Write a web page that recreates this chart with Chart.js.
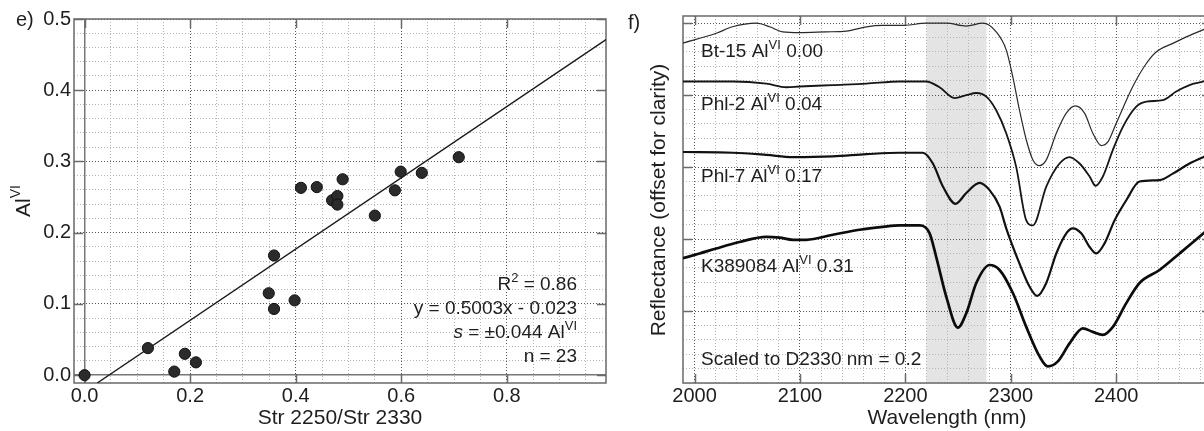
<!DOCTYPE html>
<html><head><meta charset="utf-8">
<script src="https://cdn.jsdelivr.net/npm/chart.js@4.4.0/dist/chart.umd.min.js"></script>
<style>
html,body{margin:0;padding:0;background:#fff;overflow:hidden;width:1204px;height:431px;position:relative;}
#c1{position:absolute;left:0;top:0;width:620px;height:431px;}
#c2{position:absolute;left:620px;top:0;width:600px;height:431px;}
</style></head><body>
<canvas id="c1" width="620" height="431"></canvas>
<canvas id="c2" width="600" height="431"></canvas>
<script>
// ---------- panel e) data ----------
const strRatio = [0.0, 0.12, 0.17, 0.19, 0.211, 0.349, 0.359, 0.359, 0.398, 0.41, 0.44, 0.469, 0.479, 0.479, 0.489, 0.55, 0.588, 0.599, 0.639, 0.709];
const alVI     = [0.0, 0.038, 0.005, 0.030, 0.018, 0.115, 0.168, 0.093, 0.105, 0.263, 0.264, 0.2455, 0.2515, 0.2395, 0.275, 0.224, 0.2595, 0.2857, 0.284, 0.306];
const fitX = [0.024, 0.99];
const fitY = [-0.011, 0.472];
const xTickLabelsE = [0.0, 0.2, 0.4, 0.6, 0.8];
const yTickLabelsE = [0.0, 0.1, 0.2, 0.3, 0.4, 0.5];

// ---------- panel f) data ----------
const bt15Nm = [1988, 2020.6, 2036, 2058.5, 2071.2, 2083.5, 2099.6, 2125, 2144, 2163, 2178, 2199, 2219.8, 2238.8, 2257.8, 2273.5, 2286.2, 2295.7, 2302, 2308.3, 2314.7, 2321, 2327.3, 2333.7, 2343.2, 2352.7, 2361.2, 2370, 2377.9, 2385.9, 2392.1, 2400.1, 2415.8, 2428.6, 2438, 2453.8, 2466.5, 2482.9, 2500];
const bt15R  = [4.72, 4.86, 4.95, 5.00, 4.95, 4.88, 4.87, 4.88, 4.89, 4.95, 4.97, 4.97, 5.00, 5.00, 4.96, 5.00, 4.88, 4.63, 4.25, 3.79, 3.38, 3.10, 3.02, 3.10, 3.47, 3.75, 3.85, 3.75, 3.47, 3.30, 3.35, 3.61, 4.12, 4.44, 4.60, 4.72, 4.81, 4.91, 5.02];
const phl2Nm = [1988, 2036.3, 2068, 2087, 2099.6, 2131, 2163, 2194.5, 2219.8, 2232.4, 2246.7, 2257.8, 2267.3, 2276.8, 2286.2, 2295.7, 2305.2, 2314.7, 2321, 2333.7, 2346.3, 2355.8, 2365.3, 2374.8, 2380.5, 2387.4, 2396.9, 2406.4, 2419.1, 2428.6, 2444.3, 2457, 2469.6, 2482.9, 2500];
const phl2R  = [4.19, 4.19, 4.16, 4.11, 4.12, 4.14, 4.16, 4.19, 4.19, 4.11, 3.96, 4.00, 4.03, 3.98, 3.79, 3.47, 3.00, 2.26, 2.19, 2.73, 3.05, 3.14, 3.05, 2.87, 2.74, 2.87, 3.24, 3.56, 3.84, 3.91, 3.93, 4.05, 4.14, 4.19, 4.28];
const phl7Nm = [1988, 2036.3, 2068, 2093.3, 2131, 2163, 2194.5, 2216.6, 2226.1, 2235.6, 2247.6, 2257.8, 2270.4, 2279.9, 2289.4, 2295.7, 2308.3, 2317.8, 2325.1, 2333.7, 2343.2, 2352.7, 2358.9, 2366.9, 2374.8, 2381.1, 2389, 2398.5, 2409.6, 2422.2, 2441.2, 2453.8, 2469.6, 2482.9, 2500];
const phl7R  = [3.21, 3.20, 3.17, 3.14, 3.15, 3.18, 3.20, 3.20, 3.05, 2.73, 2.49, 2.64, 2.78, 2.68, 2.45, 2.15, 1.66, 1.34, 1.21, 1.39, 1.80, 2.08, 2.15, 2.08, 1.89, 1.80, 1.94, 2.26, 2.54, 2.80, 2.82, 2.91, 3.05, 3.14, 3.24];
const k389Nm = [1988, 2004.7, 2020.6, 2042.7, 2068, 2080.6, 2093.3, 2106, 2131.2, 2156.5, 2178.7, 2194.5, 2213.5, 2223, 2229.3, 2238.8, 2249.8, 2257.8, 2267.3, 2279.9, 2289.4, 2302, 2314.7, 2327.3, 2335.2, 2344.7, 2355.8, 2368.4, 2377.9, 2387.4, 2396.9, 2409.6, 2422.2, 2441.2, 2460.2, 2482.9, 2500];
const k389R  = [1.73, 1.80, 1.87, 1.96, 2.03, 2.02, 1.99, 1.99, 2.06, 2.13, 2.17, 2.19, 2.19, 2.08, 1.75, 1.20, 0.77, 0.97, 1.39, 1.64, 1.57, 1.25, 0.78, 0.37, 0.23, 0.30, 0.55, 0.76, 0.71, 0.67, 0.78, 1.11, 1.39, 1.57, 1.80, 2.08, 2.30];
const bandNm = [2220, 2277];
const xTickLabelsF = [2000, 2100, 2200, 2300, 2400];
const yMajorF = [1, 2, 3, 4, 5];

// ---------- helpers ----------
const FONT = '"Liberation Sans", Arial, Helvetica, sans-serif';
Chart.defaults.font.family = FONT;
Chart.defaults.color = '#222';
const TXT = '#1e1e1e';

function isIn(list, v) { return list.some(m => Math.abs(m - v) < 1e-6); }
function gridVals(min, max, step) { const a = []; for (let k = Math.round(min / step); k * step <= max + 1e-9; k++) a.push(+(k * step).toFixed(6)); return a; }

function richText(ctx, x, y, parts, align, size) {
  ctx.textBaseline = 'middle';
  ctx.textAlign = 'left';
  ctx.fillStyle = TXT;
  const fontFor = p => (p.i ? 'italic ' : '') + (p.sup ? Math.round(size * 0.66) : size) + 'px ' + FONT;
  let w = 0;
  for (const p of parts) { ctx.font = fontFor(p); w += ctx.measureText(p.t).width; }
  let cx = align === 'right' ? x - w : (align === 'center' ? x - w / 2 : x);
  for (const p of parts) {
    ctx.font = fontFor(p);
    ctx.fillText(p.t, cx, p.sup ? y - size * 0.36 : y);
    cx += ctx.measureText(p.t).width;
  }
}
function rotText(ctx, x, y, parts, size) {
  ctx.save(); ctx.translate(x, y); ctx.rotate(-Math.PI / 2);
  richText(ctx, 0, 0, parts, 'center', size);
  ctx.restore();
}
function framePlugin(xMaj, yMaj) {
  return { id: 'frame', beforeDatasetsDraw(chart) {
    const { ctx, chartArea: a } = chart; const x = chart.scales.x, y = chart.scales.y;
    ctx.save(); ctx.strokeStyle = '#6a6a6a'; ctx.lineWidth = 1.5;
    ctx.strokeRect(a.left, a.top, a.right - a.left, a.bottom - a.top);
    ctx.beginPath();
    for (const v of xMaj) { const px = Math.round(x.getPixelForValue(v)) + 0.5; ctx.moveTo(px, a.top); ctx.lineTo(px, a.top + 9); ctx.moveTo(px, a.bottom); ctx.lineTo(px, a.bottom - 9); }
    for (const v of yMaj) { const py = Math.round(y.getPixelForValue(v)) + 0.5; ctx.moveTo(a.left, py); ctx.lineTo(a.left + 9, py); ctx.moveTo(a.right, py); ctx.lineTo(a.right - 9, py); }
    ctx.stroke(); ctx.restore();
  }};
}
const MAJ = '#555', MIN = '#b4b4b4';

// ---------- panel e) ----------
const xGridE = gridVals(0, 0.95, 0.05);
const yGridE = gridVals(0, 0.5, 0.02);
const isZero = c => c.tick && Math.abs(c.tick.value) < 1e-9;

new Chart(document.getElementById('c1'), {
  type: 'scatter',
  data: { datasets: [
    { label: 'samples', data: strRatio.map((v, i) => ({ x: v, y: alVI[i] })), pointRadius: 5.6, pointBackgroundColor: '#2b2b2b', pointBorderColor: '#111', pointBorderWidth: 1, order: 0 },
    { label: 'fit', type: 'line', data: fitX.map((v, i) => ({ x: v, y: fitY[i] })), borderColor: '#1a1a1a', borderWidth: 1.4, pointRadius: 0, fill: false, order: 1 }
  ]},
  options: {
    responsive: false, animation: false,
    layout: { padding: { top: 19, right: 14, left: 0, bottom: 0 } },
    plugins: { legend: { display: false }, tooltip: { enabled: false } },
    scales: {
      x: { type: 'linear', min: -0.02, max: 0.988,
        afterBuildTicks: s => { s.ticks = xGridE.map(v => ({ value: v })); },
        afterFit: s => { s.height = 48; },
        ticks: { autoSkip: false, maxRotation: 0, padding: 1, font: { size: 20 }, color: TXT, callback: v => isIn(xTickLabelsE, v) ? v.toFixed(1) : '' },
        grid: { drawTicks: false, color: c => isZero(c) ? '#777' : (c.tick && isIn(xTickLabelsE, c.tick.value) ? MAJ : MIN), lineWidth: c => isZero(c) ? 1.5 : 1 },
        border: { display: false, dash: c => isZero(c) ? [] : [1, 2] },
        title: { display: true, text: 'Str 2250/Str 2330', font: { size: 21 }, color: TXT, padding: { top: 0, bottom: 0 } }
      },
      y: { type: 'linear', min: -0.011, max: 0.5,
        afterBuildTicks: s => { s.ticks = yGridE.map(v => ({ value: v })); },
        afterFit: s => { s.width = 74; },
        ticks: { autoSkip: false, padding: 3, font: { size: 20 }, color: TXT, callback: v => isIn(yTickLabelsE, v) ? v.toFixed(1) : '' },
        grid: { drawTicks: false, color: c => isZero(c) ? '#777' : (c.tick && isIn(yTickLabelsE, c.tick.value) ? MAJ : MIN), lineWidth: c => isZero(c) ? 1.5 : 1 },
        border: { display: false, dash: c => isZero(c) ? [] : [1, 2] }
      }
    }
  },
  plugins: [framePlugin(xTickLabelsE, yTickLabelsE), { id: 'textE', afterDraw(chart) {
    const ctx = chart.ctx;
    richText(ctx, 16, 20, [{ t: 'e)' }], 'left', 20);
    rotText(ctx, 24, 201, [{ t: 'Al' }, { t: 'VI', sup: true }], 21);
    richText(ctx, 577, 285, [{ t: 'R' }, { t: '2', sup: true }, { t: ' = 0.86' }], 'right', 19);
    richText(ctx, 577, 309, [{ t: 'y = 0.5003x - 0.023' }], 'right', 19);
    richText(ctx, 577, 333, [{ t: 's', i: true }, { t: ' = \u00b10.044 Al' }, { t: 'VI', sup: true }], 'right', 19);
    richText(ctx, 577, 357, [{ t: 'n = 23' }], 'right', 19);
  }}]
});

// ---------- panel f) ----------
const xGridF = gridVals(2000, 2480, 20);
const yGridF = gridVals(0, 5.0, 0.2);
const specStyle = (nm, r, w, col) => ({ data: nm.map((v, i) => ({ x: v, y: r[i] })), showLine: true, borderColor: col, borderWidth: w, pointRadius: 0, cubicInterpolationMode: 'monotone', fill: false });

new Chart(document.getElementById('c2'), {
  type: 'scatter',
  data: { datasets: [
    Object.assign({ label: 'Bt-15' }, specStyle(bt15Nm, bt15R, 1.2, '#2a2a2a')),
    Object.assign({ label: 'Phl-2' }, specStyle(phl2Nm, phl2R, 1.8, '#161616')),
    Object.assign({ label: 'Phl-7' }, specStyle(phl7Nm, phl7R, 2.2, '#111')),
    Object.assign({ label: 'K389084' }, specStyle(k389Nm, k389R, 2.7, '#0c0c0c'))
  ]},
  options: {
    responsive: false, animation: false,
    layout: { padding: { top: 16, right: 9, left: 0, bottom: 0 } },
    plugins: { legend: { display: false }, tooltip: { enabled: false } },
    scales: {
      x: { type: 'linear', min: 1989, max: 2490,
        afterBuildTicks: s => { s.ticks = xGridF.map(v => ({ value: v })); },
        afterFit: s => { s.height = 48; },
        ticks: { autoSkip: false, maxRotation: 0, padding: 1, font: { size: 20 }, color: TXT, callback: v => isIn(xTickLabelsF, v) ? String(v) : '' },
        grid: { drawTicks: false, color: c => (c.tick && isIn(xTickLabelsF, c.tick.value) ? MAJ : MIN), lineWidth: 1 },
        border: { display: false, dash: [1, 2] },
        title: { display: true, text: 'Wavelength (nm)', font: { size: 21 }, color: TXT, padding: { top: 0, bottom: 0 } }
      },
      y: { type: 'linear', min: 0, max: 5.1,
        afterBuildTicks: s => { s.ticks = yGridF.map(v => ({ value: v })); },
        afterFit: s => { s.width = 63; },
        ticks: { display: false },
        grid: { drawTicks: false, color: c => (c.tick && isIn(yMajorF, c.tick.value) ? MAJ : MIN), lineWidth: 1 },
        border: { display: false, dash: [1, 2] }
      }
    }
  },
  plugins: [{ id: 'band', beforeDraw(chart) {
      const { ctx, chartArea: a } = chart; const x = chart.scales.x;
      const x0 = x.getPixelForValue(bandNm[0]), x1 = x.getPixelForValue(bandNm[1]);
      ctx.save(); ctx.fillStyle = '#e4e4e4'; ctx.fillRect(x0, a.top, x1 - x0, a.bottom - a.top); ctx.restore();
    }},
    framePlugin(xTickLabelsF, yMajorF),
    { id: 'textF', afterDraw(chart) {
      const ctx = chart.ctx;
      richText(ctx, 8, 23, [{ t: 'f)' }], 'left', 20);
      rotText(ctx, 39, 200, [{ t: 'Reflectance (offset for clarity)' }], 21);
      richText(ctx, 81, 52, [{ t: 'Bt-15 Al' }, { t: 'VI', sup: true }, { t: ' 0.00' }], 'left', 19);
      richText(ctx, 81, 105, [{ t: 'Phl-2 Al' }, { t: 'VI', sup: true }, { t: ' 0.04' }], 'left', 19);
      richText(ctx, 81, 177, [{ t: 'Phl-7 Al' }, { t: 'VI', sup: true }, { t: ' 0.17' }], 'left', 19);
      richText(ctx, 81, 267, [{ t: 'K389084 Al' }, { t: 'VI', sup: true }, { t: ' 0.31' }], 'left', 19);
      richText(ctx, 81, 360, [{ t: 'Scaled to D2330 nm = 0.2' }], 'left', 19);
    }}]
});
</script></body></html>
